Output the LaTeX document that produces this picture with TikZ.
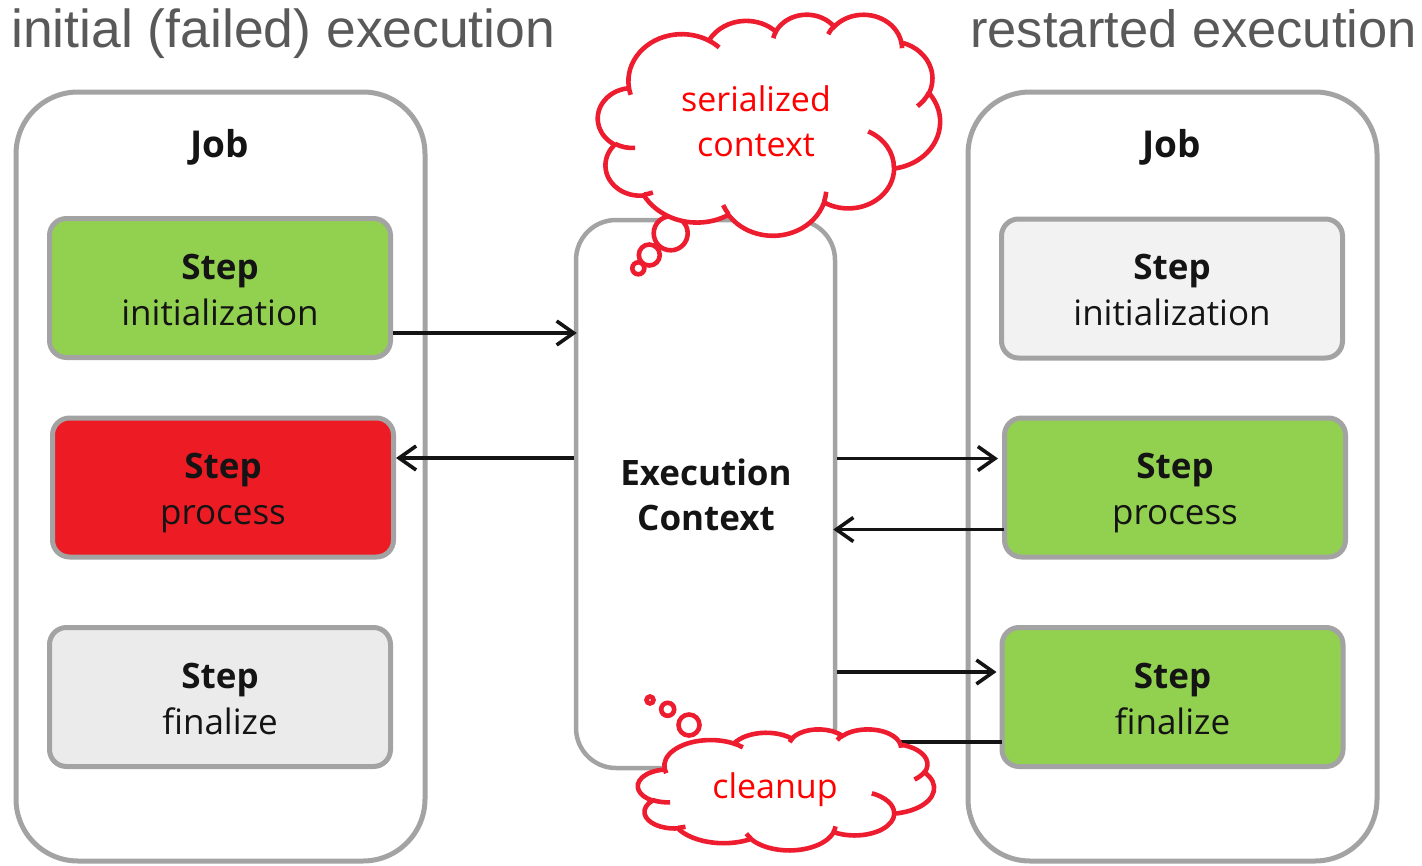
\documentclass[tikz,border=0pt]{standalone}
\usepackage{fontspec}
\setmainfont{Open Sans}
\newfontfamily\headfont{Liberation Sans}
\usetikzlibrary{arrows.meta,calc}

\definecolor{framegray}{RGB}{163,163,163}
\definecolor{okgreen}{RGB}{146,208,80}
\definecolor{failred}{RGB}{237,28,36}
\definecolor{idleA}{RGB}{235,235,235}
\definecolor{idleB}{RGB}{242,242,242}
\definecolor{headgray}{RGB}{89,89,89}
\definecolor{cloudred}{RGB}{237,28,46}
\definecolor{notered}{RGB}{255,0,0}
\definecolor{ink}{RGB}{20,20,20}

% Elliptic arc given by its visual start angle and sweep (DrawingML style),
% converted to the parametric angles that TikZ expects.
\newcommand\cloudarcparams[4]{%
  \pgfmathsetmacro\cloudA{atan2(#1*sin(#3),#2*cos(#3))}%
  \pgfmathsetmacro\cloudB{atan2(#1*sin(#3+#4),#2*cos(#3+#4))}%
  \pgfmathsetmacro\cloudD{\cloudB-\cloudA}%
  \pgfmathsetmacro\cloudD{\cloudD+360*and(#4>0,\cloudD<0)-360*and(#4<0,\cloudD>0)}%
}
% outline of the cloud, in a 43.2 x 43.2 box
\gdef\cloudpath{}
\newcommand\cloudseg[4]{\cloudarcparams{#1}{#2}{#3}{#4}%
  \xdef\cloudpath{\cloudpath arc[start angle=\cloudA,delta angle=\cloudD,x radius=#1,y radius=#2]}}
\cloudseg{6.753}{9.190}{-190.48748}{123.78053}
\cloudseg{5.333}{7.267}{-144.10238}{89.94523}
\cloudseg{4.365}{5.945}{-145.80792}{99.72302}
\cloudseg{4.857}{6.595}{-130.98607}{117.24173}
\cloudseg{5.333}{7.273}{-78.70888}{109.02692}
\cloudseg{6.775}{9.220}{-46.26725}{130.269}
\cloudseg{5.785}{7.867}{0.62502}{114.03333}
\cloudseg{6.752}{9.215}{22.4516}{115.17255}
\cloudseg{7.720}{10.543}{66.24263}{75.71102}
\cloudseg{4.360}{5.918}{-274.94208}{146.73557}
\cloudseg{4.345}{5.945}{-246.8285}{152.51885}

% small inner curls of the cloud
\newcommand\cloudcurl[6]{\cloudarcparams{#3}{#4}{#5}{#6}%
  \draw[cloudline] (#1,#2) arc[start angle=\cloudA,delta angle=\cloudD,x radius=#3,y radius=#4];}

% cloud placed with its box at (#1,#2), unit sizes #3 x #4 (pt per grid unit)
\newcommand\thoughtcloud[4]{%
  \begin{scope}[shift={(#1,#2)},x=#3pt,y=-#4pt]
    \draw[cloudline,fill=white] (3.9,14.37) \cloudpath -- cycle;
    \cloudcurl{4.693}{26.177}{4.345}{5.945}{86.742}{26.4295}
    \cloudcurl{6.928}{34.899}{4.360}{5.918}{73.6105}{11.4475}
    \cloudcurl{16.478}{39.090}{6.752}{9.215}{137.6242}{14.0811}
    \cloudcurl{28.827}{34.751}{6.752}{9.215}{6.4533}{15.9984}
    \cloudcurl{34.129}{22.954}{5.785}{7.867}{-70.2924}{70.9174}
    \cloudcurl{41.798}{15.354}{5.333}{7.273}{30.318}{27.7515}
    \cloudcurl{38.324}{5.426}{4.857}{6.595}{-13.7443}{14.8589}
    \cloudcurl{29.078}{3.952}{4.857}{6.595}{-149.1815}{18.1954}
    \cloudcurl{22.141}{4.720}{4.365}{5.945}{-163.4943}{17.6864}
    \cloudcurl{14.000}{5.192}{6.753}{9.190}{-66.707}{12.3194}
    \cloudcurl{4.127}{15.789}{6.753}{9.190}{157.6544}{11.8582}
  \end{scope}}

\begin{document}
\begin{tikzpicture}[x=1pt,y=-1pt,
  jobbox/.style={draw=framegray,line width=5pt,rounded corners=62pt,
    minimum width=409pt,minimum height=769pt,inner sep=0pt},
  jobname/.style={font=\bfseries\fontsize{37}{42}\selectfont,text=ink,anchor=base,inner sep=0pt},
  stepbox/.style={draw=framegray,line width=5pt,rounded corners=17pt,
    minimum width=341pt,minimum height=139pt,inner sep=0pt},
  ctxbox/.style={draw=framegray,line width=4.5pt,rounded corners=40pt,
    minimum width=259pt,minimum height=548pt,inner sep=0pt},
  steptext/.style={text=ink,inner sep=0pt,align=center,anchor=base,
    font=\fontsize{35}{46}\selectfont},
  heading/.style={font=\headfont\fontsize{53.5}{60}\selectfont,text=headgray,inner sep=0pt},
  arr/.style={draw=ink,line width=3.6pt,-{Straight Barb[length=17pt,width=24pt]}},
  link/.style={draw=ink,line width=3.6pt},
  cloudline/.style={draw=cloudred,line width=4.6pt},
  notetext/.style={text=notered,inner sep=0pt,align=center,text depth=0pt,
    font=\fontsize{34}{45}\selectfont}]

\useasboundingbox (0,0) rectangle (1422,865);

% headings
\node[heading,anchor=base west] (headL) at (11,47) {initial (failed) execution};
\node[heading,anchor=base east,font=\headfont\fontsize{52.5}{60}\selectfont] (headR) at (1417,47) {restarted execution};

% job frames
\node[jobbox] (jobL) at (220.5,476.5) {};
\node[jobbox] (jobR) at (1172.5,476.5) {};
\node[jobname] (jobLname) at (220,157) {Job};
\node[jobname] (jobRname) at (1172,157) {Job};

% steps of the initial run
\node[stepbox,fill=okgreen] (initL) at (220,288) {};
\node[stepbox,fill=failred] (procL) at (223,487.5) {};
\node[stepbox,fill=idleA] (finL) at (220,697) {};

% steps of the restarted run
\node[stepbox,fill=idleB] (initR) at (1172,288.5) {};
\node[stepbox,fill=okgreen] (procR) at (1175,487.5) {};
\node[stepbox,fill=okgreen] (finR) at (1172.5,697) {};

% step captions, placed by the baseline of their last line
\node[steptext] (initLtxt) at ($(initL)+(0,37)$) {\textbf{Step}\\initialization};
\node[steptext] (procLtxt) at ($(procL)+(0,37)$) {\textbf{Step}\\process};
\node[steptext] (finLtxt) at ($(finL)+(0,37)$) {\textbf{Step}\\finalize};
\node[steptext] (initRtxt) at ($(initR)+(0,37)$) {\textbf{Step}\\initialization};
\node[steptext] (procRtxt) at ($(procR)+(0,37)$) {\textbf{Step}\\process};
\node[steptext] (finRtxt) at ($(finR)+(0,37)$) {\textbf{Step}\\finalize};

% shared execution context
\node[ctxbox] (ctx) at (705.5,494) {};
\node[steptext,font=\bfseries\fontsize{35}{45}\selectfont] (ctxtxt) at (706,530) {Execution\\Context};

% connector end points
\coordinate (a1) at ($(initL.east)+(0,45)$);
\coordinate (a2) at ($(procL.east)+(0,-29.5)$);
\coordinate (a3) at ($(procR.west)+(0,-29)$);
\coordinate (a4) at ($(procR.west)+(0,42)$);
\coordinate (a5) at ($(finR.west)+(0,-25)$);
\coordinate (a6) at ($(finR.west)+(0,45)$);
\coordinate (cleanupjoin) at (900,742);

\draw[arr,shorten >=-3pt] (a1) -- (a1 -| ctx.west);
\draw[arr] (a2 -| ctx.west) -- (a2);
\draw[arr,shorten >=4pt] (a3 -| ctx.east) -- (a3);
\draw[arr,shorten >=-4pt,shorten <=-2pt] (a4) -- (a4 -| ctx.east);
\draw[arr,shorten >=3pt] (a5 -| ctx.east) -- (a5);
\draw[link,shorten <=-2pt] (a6) -- (cleanupjoin);

% thought bubbles
\draw[cloudline,fill=white] (638.3,268.3) circle[radius=6pt];
\draw[cloudline,fill=white] (649.3,255) circle[radius=10.5pt];
\draw[cloudline,fill=white] (670.7,233.3) circle[radius=17pt];
\thoughtcloud{598}{14}{7.9167}{5.1157}
\node[notetext] (noteSer) at (756,121.5) {serialized\\context};

\draw[cloudline,fill=white] (650,700) circle[radius=3.5pt];
\draw[cloudline,fill=white] (667.7,709.3) circle[radius=6.5pt];
\draw[cloudline,fill=white] (689,725) circle[radius=10.5pt];
\thoughtcloud{638}{729}{6.8519}{2.8009}
\node[notetext,anchor=base] (noteClean) at (775,798) {cleanup};

\end{tikzpicture}
\end{document}
